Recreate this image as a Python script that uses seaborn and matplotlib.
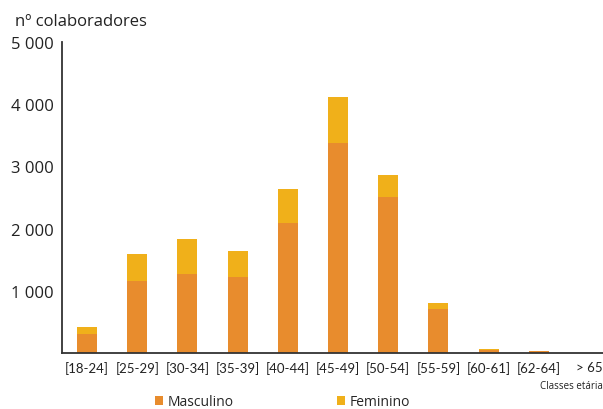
import matplotlib
matplotlib.use("Agg")
import matplotlib.pyplot as plt
import seaborn as sns
import pandas as pd
from matplotlib.patches import Patch

categories = ["[18-24]", "[25-29]", "[30-34]", "[35-39]", "[40-44]", "[45-49]",
              "[50-54]", "[55-59]", "[60-61]", "[62-64]", "> 65"]
masculino = [305, 1155, 1267, 1220, 2086, 3369, 2503, 706, 49, 35, 5]
feminino = [117, 434, 563, 416, 545, 754, 353, 96, 15, 0, 0]
y_ticks = [1000, 2000, 3000, 4000, 5000]
y_ticklabels = ["1 000", "2 000", "3 000", "4 000", "5 000"]

c_masc = "#E88C2D"
c_fem = "#F0B01A"

sns.set_theme(style="white")
plt.rcParams["font.family"] = ["Open Sans", "DejaVu Sans"]

df = pd.DataFrame({"cat": categories,
                   "masc": masculino,
                   "total": [m + f for m, f in zip(masculino, feminino)]})

fig = plt.figure(figsize=(6.03, 4.10), dpi=100)
ax = fig.add_axes([0.1028, 0.1366, 0.8972, 0.7584])

sns.barplot(data=df, x="cat", y="total", order=categories, color=c_fem,
            width=0.4, saturation=1, linewidth=0, ax=ax)
sns.barplot(data=df, x="cat", y="masc", order=categories, color=c_masc,
            width=0.4, saturation=1, linewidth=0, ax=ax)

ax.set_xlim(-0.5, 10.28)
ax.set_ylim(0, 5000)
ax.set_yticks(y_ticks)
ax.set_yticklabels(y_ticklabels, fontsize=12, color="#222222")
ax.tick_params(axis="y", length=0, pad=6)
ax.tick_params(axis="x", length=0, pad=6)
ax.set_xticks(range(len(categories)))
ax.set_xticklabels(categories, fontsize=9.5, color="#222222", family=["Lato", "DejaVu Sans"])
ax.set_xlabel("")
ax.set_ylabel("")
for s in ["top", "right"]:
    ax.spines[s].set_visible(False)
for s in ["left", "bottom"]:
    ax.spines[s].set_color("#333333")
    ax.spines[s].set_linewidth(1.3)

fig.text(15 / 603, 1 - 22 / 410, "nº colaboradores", fontsize=12,
         color="#222222", va="center", ha="left")
fig.text(540 / 603, 1 - 387 / 410, "Classes etária", fontsize=7,
         color="#222222", va="center", ha="left")

handles = [Patch(facecolor=c_masc, edgecolor="none", label="Masculino"),
           Patch(facecolor=c_fem, edgecolor="none", label="Feminino")]
fig.legend(handles=handles, loc="center left", bbox_to_anchor=(155 / 603, 1 - 403 / 410),
           ncol=2, frameon=False, fontsize=10, handlelength=0.58, handleheight=0.58,
           handletextpad=0.36, columnspacing=7.4, borderaxespad=0, borderpad=0)

fig.savefig("out.png", dpi=100)
